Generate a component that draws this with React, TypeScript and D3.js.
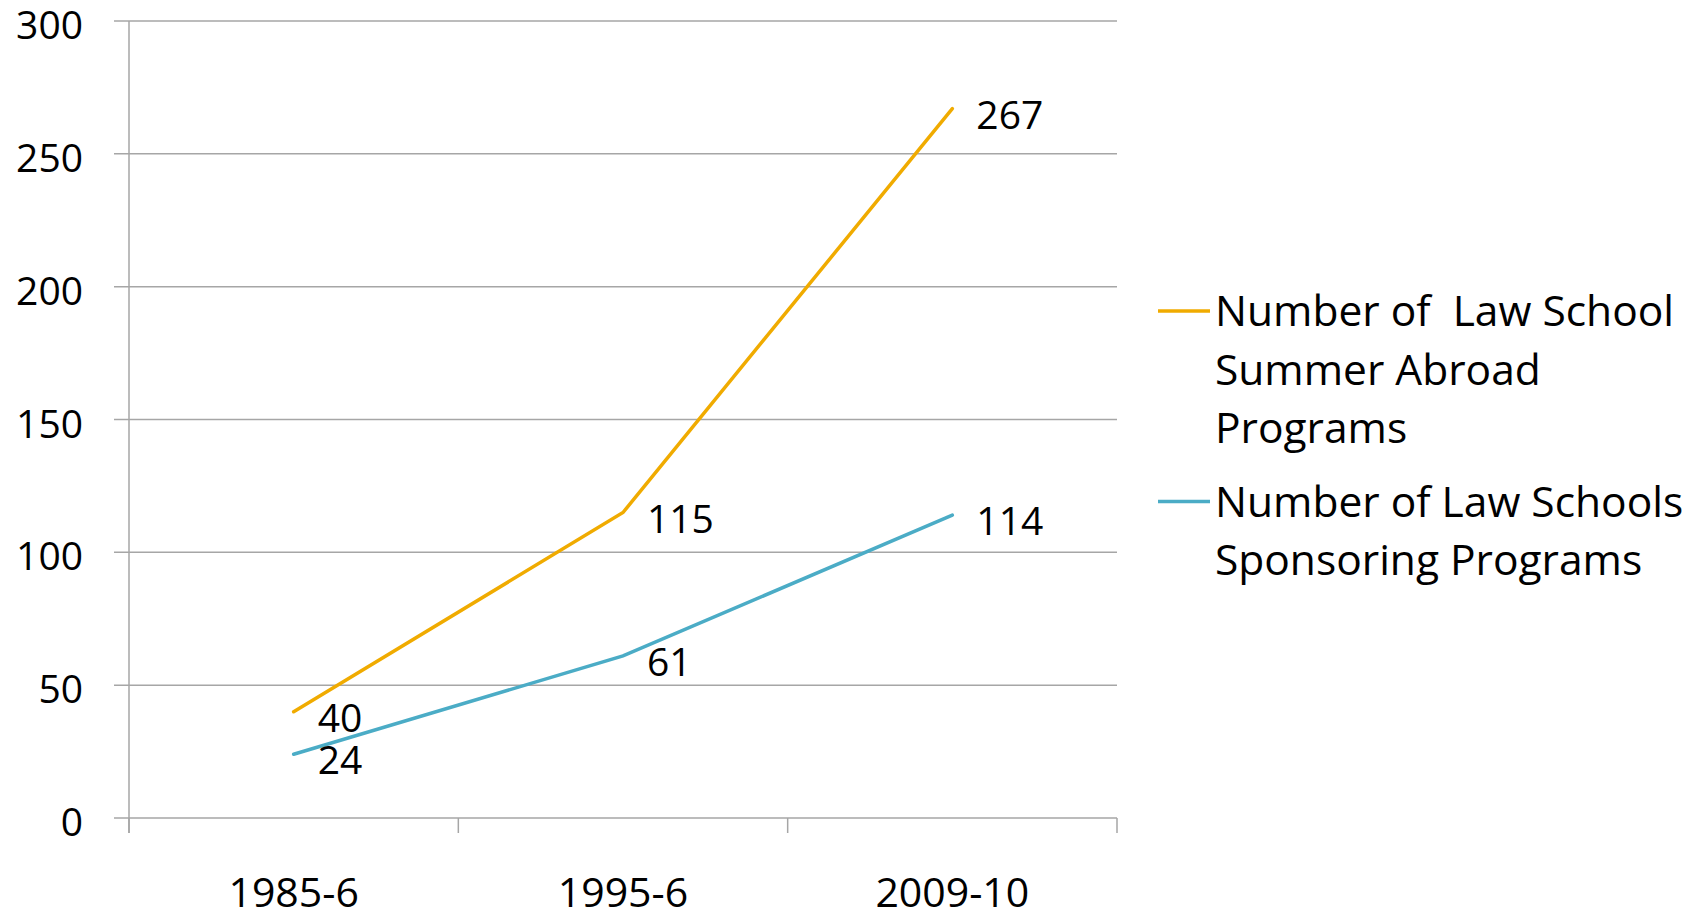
import React from 'react';
import * as d3 from 'd3';

const W = 1700;
const H = 920;
const MARGIN = { top: 21, right: 583, bottom: 102, left: 129 };
const FONT = '"Open Sans", "Noto Sans", sans-serif';

const categories = ['1985-6', '1995-6', '2009-10'];
const summerPrograms = [40, 115, 267];
const sponsoringSchools = [24, 61, 114];
const yTicks = [0, 50, 100, 150, 200, 250, 300];

const series = [
  { name: ['Number of  Law School', 'Summer Abroad', 'Programs'], values: summerPrograms, color: '#F0AB00' },
  { name: ['Number of Law Schools', 'Sponsoring Programs'], values: sponsoringSchools, color: '#4BACC6' }
];

export default function App() {
  const innerW = W - MARGIN.left - MARGIN.right;
  const innerH = H - MARGIN.top - MARGIN.bottom;

  const x = d3.scaleBand().domain(categories).range([0, innerW]);
  const y = d3.scaleLinear().domain([0, 300]).range([innerH, 0]);
  const cx = (c: string) => (x(c) as number) + x.bandwidth() / 2;

  const line = d3.line<number>()
    .x((d, i) => cx(categories[i]))
    .y((d) => y(d));

  const bounds = [...categories.map((c) => x(c) as number), innerW];

  // legend layout
  const legendX = 1158;
  const lineGap = 58.5;
  let legendY = 311;
  const legendItems = series.map((s) => {
    const item = { s, y: legendY };
    legendY += s.name.length * lineGap + 15;
    return item;
  });

  return (
    <svg width={W} height={H} style={{ position: 'absolute', left: 0, top: 0, background: '#fff' }} fontFamily={FONT}>
      <g transform={`translate(${MARGIN.left},${MARGIN.top})`}>
        {/* gridlines + y ticks */}
        {yTicks.map((t) => (
          <g key={t} transform={`translate(0,${y(t)})`}>
            <line x1={-15} x2={innerW} stroke='#A6A6A6' strokeWidth={1.5} />
            <text x={-46} dy='0.36em' y={4} textAnchor='end' fontSize={39} fill='#000'>{t}</text>
          </g>
        ))}
        {/* y axis */}
        <line x1={0} x2={0} y1={0} y2={innerH + 15} stroke='#A6A6A6' strokeWidth={1.5} />
        {/* x ticks */}
        {bounds.map((b, i) => (
          <line key={i} x1={b} x2={b} y1={innerH} y2={innerH + 15} stroke='#A6A6A6' strokeWidth={1.5} />
        ))}
        {categories.map((c) => (
          <text key={c} x={cx(c)} y={innerH + 89} textAnchor='middle' fontSize={41} fill='#000'>{c}</text>
        ))}
        {/* series */}
        {series.map((s, si) => (
          <g key={si}>
            <path d={line(s.values) as string} fill='none' stroke={s.color} strokeWidth={3.5} strokeLinecap='round' />
            {s.values.map((v, i) => (
              <text key={i} x={cx(categories[i]) + 24} y={y(v) + 6} dy='0.36em' fontSize={39} fill='#000'>{v}</text>
            ))}
          </g>
        ))}
      </g>
      {/* legend */}
      {legendItems.map(({ s, y: ly }, i) => (
        <g key={i}>
          <line x1={legendX} x2={legendX + 52} y1={ly} y2={ly} stroke={s.color} strokeWidth={3.5} />
          <text x={legendX + 57} y={ly} fontSize={42.5} fill='#000'>
            {s.name.map((n, j) => (
              <tspan key={j} x={legendX + 57} y={ly + j * lineGap} dy='0.36em' style={{ whiteSpace: 'pre' }}>{n}</tspan>
            ))}
          </text>
        </g>
      ))}
    </svg>
  );
}
